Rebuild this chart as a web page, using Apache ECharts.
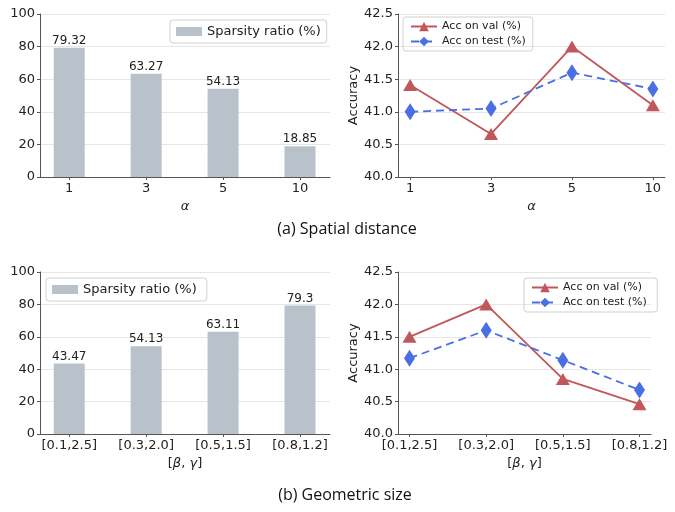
<!DOCTYPE html>
<html>
<head>
<meta charset="utf-8">
<script src="https://cdn.jsdelivr.net/npm/echarts@6/dist/echarts.min.js"></script>
<style>html,body{margin:0;padding:0;background:#fff}#c{width:675px;height:512px}</style>
</head>
<body>
<div id="c"></div>
<script>
// ---- data ----
const alphaCats = ['1', '3', '5', '10'];
const sizeCats = ['[0.1,2.5]', '[0.3,2.0]', '[0.5,1.5]', '[0.8,1.2]'];
const sparsityAlpha = [79.32, 63.27, 54.13, 18.85];
const sparsitySize = [43.47, 54.13, 63.11, 79.3];
const valAlpha = [41.41, 40.66, 42.0, 41.1];
const testAlpha = [41.0, 41.05, 41.6, 41.35];
const valSize = [41.5, 42.0, 40.85, 40.46];
const testSize = [41.17, 41.6, 41.14, 40.68];
const sparsityTicks = [0, 20, 40, 60, 80, 100];
const accTicks = [40.0, 40.5, 41.0, 41.5, 42.0, 42.5];

const FONT = 'DejaVu Sans';
const BAR_COLOR = '#b9c1ca';
const RED = '#c0575a';
const BLUE = '#4a6fe3';
const AXIS_COLOR = '#555';

function pts(arr) { return arr.map((v, i) => [i, v]); }

const nameRich = {
  it: { fontFamily: FONT, fontSize: 13, color: '#222', fontStyle: 'italic' },
  up: { fontFamily: FONT, fontSize: 13, color: '#222' }
};

function xAxis(gi, cats, min, max, name) {
  return {
    type: 'value', gridIndex: gi, min: min, max: max,
    name: name, nameLocation: 'middle', nameGap: 23,
    nameTextStyle: { fontFamily: FONT, fontSize: 13, color: '#222', rich: nameRich },
    axisLine: { show: true, onZero: false, lineStyle: { color: AXIS_COLOR, width: 1 } },
    axisTick: { show: true, length: 3, lineStyle: { color: AXIS_COLOR }, customValues: [0, 1, 2, 3] },
    axisLabel: { customValues: [0, 1, 2, 3], formatter: v => cats[Math.round(v)], fontFamily: FONT, fontSize: 13, color: '#222', margin: 5 },
    splitLine: { show: false }
  };
}
function yAxis(gi, ticks, name, fmt) {
  return {
    type: 'value', gridIndex: gi, min: ticks[0], max: ticks[ticks.length - 1],
    interval: ticks[1] - ticks[0],
    name: name, nameLocation: 'middle', nameGap: 37, nameRotate: 90,
    nameTextStyle: { fontFamily: FONT, fontSize: 13, color: '#222' },
    axisLine: { show: true, onZero: false, lineStyle: { color: AXIS_COLOR, width: 1 } },
    axisTick: { show: true, length: 3, lineStyle: { color: AXIS_COLOR } },
    axisLabel: { fontFamily: FONT, fontSize: 13, color: '#222', margin: 5, formatter: fmt },
    splitLine: { show: true, lineStyle: { color: '#e6e6e6', width: 1 } }
  };
}

const barLabel = { show: true, position: 'top', distance: 1, fontFamily: FONT, fontSize: 12, color: '#222', formatter: p => p.value[1] };

function legendBox(extra) {
  return Object.assign({
    orient: 'vertical', borderColor: '#d0d0d0', borderWidth: 1, borderRadius: 3,
    padding: [4, 7, 4, 7], itemGap: 4, itemWidth: 26, itemHeight: 12,
    textStyle: { fontFamily: FONT, fontSize: 11, color: '#222' }
  }, extra);
}

const chart = echarts.init(document.getElementById('c'));
chart.setOption({
  animation: false,
  backgroundColor: '#fff',
  title: [
    { text: '(a) Spatial distance', left: 342, top: 216, textAlign: 'center',
      textStyle: { fontFamily: 'Open Sans', fontSize: 16, fontWeight: 'normal', color: '#111' } },
    { text: '(b) Geometric size', left: 340, top: 482, textAlign: 'center',
      textStyle: { fontFamily: 'Open Sans', fontSize: 16, fontWeight: 'normal', color: '#111' } }
  ],
  grid: [
    { left: 40, top: 14, width: 290, height: 163 },
    { left: 398, top: 14, width: 267, height: 163 },
    { left: 40, top: 272, width: 290, height: 162 },
    { left: 398, top: 272, width: 253, height: 162 }
  ],
  xAxis: [
    xAxis(0, alphaCats, -0.38, 3.39, '{it|α}'),
    xAxis(1, alphaCats, -0.15, 3.15, '{it|α}'),
    xAxis(2, sizeCats, -0.38, 3.39, '{up|[}{it|β}{up|, }{it|γ}{up|]}'),
    xAxis(3, sizeCats, -0.15, 3.15, '{up|[}{it|β}{up|, }{it|γ}{up|]}')
  ],
  yAxis: [
    yAxis(0, sparsityTicks, '', v => v),
    yAxis(1, accTicks, 'Accuracy', v => v.toFixed(1)),
    yAxis(2, sparsityTicks, '', v => v),
    yAxis(3, accTicks, 'Accuracy', v => v.toFixed(1))
  ],
  legend: [
    legendBox({ data: [{ name: 'Sparsity ratio (%)', icon: 'rect' }], left: 170, top: 20, itemHeight: 9, padding: [5, 6, 5, 6], textStyle: { fontFamily: FONT, fontSize: 13, color: '#222' } }),
    legendBox({ data: ['Acc on val (%)', 'Acc on test (%)'], left: 403, top: 17 }),
    legendBox({ data: [{ name: 'Sparsity ratio (%) ', icon: 'rect' }], left: 46, top: 278, itemHeight: 9, padding: [5, 6, 5, 6], textStyle: { fontFamily: FONT, fontSize: 13, color: '#222' } }),
    legendBox({ data: ['Acc on val (%) ', 'Acc on test (%) '], left: 524, top: 278 })
  ],
  series: [
    { type: 'bar', name: 'Sparsity ratio (%)', xAxisIndex: 0, yAxisIndex: 0, data: pts(sparsityAlpha),
      barWidth: 31, itemStyle: { color: BAR_COLOR }, label: barLabel },
    { type: 'line', name: 'Acc on val (%)', xAxisIndex: 1, yAxisIndex: 1, data: pts(valAlpha),
      symbol: 'triangle', symbolSize: [14, 12], itemStyle: { color: RED }, lineStyle: { color: RED, width: 1.8 } },
    { type: 'line', name: 'Acc on test (%)', xAxisIndex: 1, yAxisIndex: 1, data: pts(testAlpha),
      symbol: 'diamond', symbolSize: [11, 17], itemStyle: { color: BLUE }, lineStyle: { color: BLUE, width: 1.8, type: [8, 5] } },
    { type: 'bar', name: 'Sparsity ratio (%) ', xAxisIndex: 2, yAxisIndex: 2, data: pts(sparsitySize),
      barWidth: 31, itemStyle: { color: BAR_COLOR }, label: barLabel },
    { type: 'line', name: 'Acc on val (%) ', xAxisIndex: 3, yAxisIndex: 3, data: pts(valSize),
      symbol: 'triangle', symbolSize: [14, 12], itemStyle: { color: RED }, lineStyle: { color: RED, width: 1.8 } },
    { type: 'line', name: 'Acc on test (%) ', xAxisIndex: 3, yAxisIndex: 3, data: pts(testSize),
      symbol: 'diamond', symbolSize: [11, 17], itemStyle: { color: BLUE }, lineStyle: { color: BLUE, width: 1.8, type: [8, 5] } }
  ]
});
</script>
</body>
</html>
